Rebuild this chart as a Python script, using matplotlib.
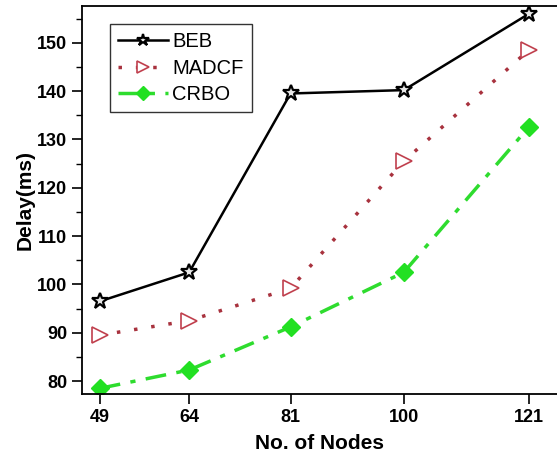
import matplotlib
matplotlib.use('Agg')
import matplotlib.pyplot as plt
from matplotlib.ticker import MultipleLocator

nodes = [49, 64, 81, 100, 121]
beb = [96.5, 102.5, 139.5, 140.2, 156.0]
madcf = [89.5, 92.5, 99.2, 125.5, 148.5]
crbo = [78.5, 82.3, 91.2, 102.5, 132.6]


def plot():
    """draw the delay chart"""
    plt.rcParams['font.family'] = ['Liberation Sans', 'DejaVu Sans']
    fig = plt.figure(figsize=(5.57, 4.61), dpi=100)
    ax = fig.add_axes([0.147, 0.145, 0.853, 0.842])

    ax.plot(nodes, beb, color='black', lw=1.8, marker='*', ms=12,
            mfc='#e8e8e8', mec='black', mew=1.6, label='BEB')
    ax.plot(nodes, madcf, color='#a8323e', lw=2.5, ls=(0, (1, 4)),
            marker='>', ms=11, mfc='white', mec='#c0404e', mew=1.2,
            label='MADCF')
    ax.plot(nodes, crbo, color='#2edc2e', lw=2.5, ls=(0, (6, 3, 1.5, 3)),
            marker='D', ms=9, mfc='#22e022', mec='#22e022', label='CRBO')

    ax.set_xlim(46, 125.7)
    ax.set_ylim(77.3, 157.6)
    ax.set_xticks(nodes)
    ax.yaxis.set_major_locator(MultipleLocator(10))
    ax.yaxis.set_minor_locator(MultipleLocator(5))
    ax.tick_params(direction='out', length=7, width=1.2, labelsize=13)
    ax.tick_params(which='minor', direction='out', length=4, width=1.0)
    for lab in ax.get_xticklabels() + ax.get_yticklabels():
        lab.set_fontweight('bold')
    ax.spines['right'].set_visible(False)
    for side in ['left', 'bottom', 'top']:
        ax.spines[side].set_linewidth(1.3)

    ax.set_xlabel('No. of Nodes', fontsize=15, fontweight='bold', labelpad=6)
    ax.set_ylabel('Delay(ms)', fontsize=15, fontweight='bold', labelpad=2)

    leg = ax.legend(loc='upper left', bbox_to_anchor=(0.059, 0.954),
                    borderaxespad=0, fontsize=14.5, frameon=True,
                    fancybox=False, edgecolor='black', handlelength=2.5,
                    borderpad=0.4, labelspacing=0.38, handletextpad=0.2,
                    markerscale=0.75)
    leg.get_frame().set_linewidth(1.0)

    fig.savefig('out.png', dpi=100)


if __name__ == "__main__":
    plot()
